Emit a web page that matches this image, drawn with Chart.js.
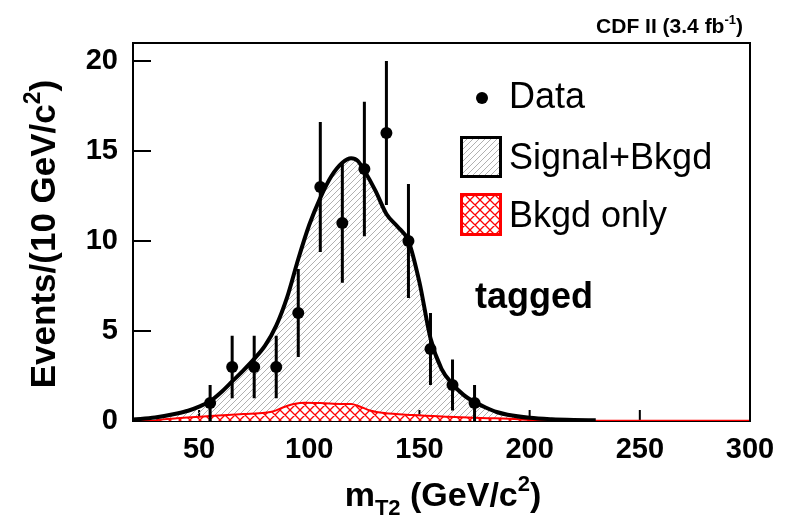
<!DOCTYPE html>
<html><head><meta charset="utf-8">
<script src="https://cdn.jsdelivr.net/npm/chart.js@4.4.1/dist/chart.umd.min.js"></script>
<style>html,body{margin:0;padding:0;background:#fff}canvas{display:block}</style>
</head><body>
<canvas id="c" width="792" height="520"></canvas>
<script>
const xTicks=[50,100,150,200,250,300];
const yTicks=[0,5,10,15,20];
const dataX=[55,65,75,85,95,105,115,125,135,145,155,165,175];
const dataY=[1,3,3,3,6,13,11,14,16,10,4,2,1];
const dataErr=[1,1.73,1.73,1.73,2.45,3.61,3.32,3.74,4,3.16,2,1.41,1];
const sbX=[20,30,40,45,50,55,60,65,70,75,80,85,90,95,100,105,110,115,119,122,125,130,135,140,145,150,155,160,165,170,175,180,185,190,200,210,220,230];
const sbY=[0.08,0.2,0.42,0.57,0.8,1.1,1.6,2.2,2.8,3.45,4.2,5.3,6.9,9.0,10.9,12.4,13.6,14.35,14.6,14.45,13.9,12.8,11.5,10.8,10.0,7.7,4.6,2.9,2.05,1.45,1.05,0.75,0.5,0.35,0.18,0.1,0.06,0.04];
const bgX=[20,30,31,40,55,70,80,84,88,93,98,105,115,119,122,128,134,147,163,178,195,204,300];
const bgY=[0,0.02,0.05,0.15,0.28,0.39,0.46,0.55,0.75,0.94,1.02,1.0,0.95,0.94,0.85,0.57,0.44,0.33,0.24,0.17,0.1,0.02,0.02];
const legendLabels=['Data','Signal+Bkgd','Bkgd only'];
const tagText='tagged';

const FF='"Liberation Sans", Arial, Helvetica, sans-serif';

function makeHatch(){
  const s=6, c=document.createElement('canvas'); c.width=s; c.height=s;
  const g=c.getContext('2d');
  g.strokeStyle='#a8a8a8'; g.lineWidth=0.9;
  g.beginPath();
  g.moveTo(0,s); g.lineTo(s,0);
  g.moveTo(-1,1); g.lineTo(1,-1);
  g.moveTo(s-1,s+1); g.lineTo(s+1,s-1);
  g.stroke();
  return g.createPattern(c,'repeat');
}
function makeCross(){
  const s=10, c=document.createElement('canvas'); c.width=s; c.height=s;
  const g=c.getContext('2d');
  g.fillStyle='#fff'; g.fillRect(0,0,s,s);
  g.strokeStyle='#ff0000'; g.lineWidth=1.3;
  g.beginPath();
  g.moveTo(0,s); g.lineTo(s,0);
  g.moveTo(-1,1); g.lineTo(1,-1);
  g.moveTo(s-1,s+1); g.lineTo(s+1,s-1);
  g.moveTo(0,0); g.lineTo(s,s);
  g.moveTo(-1,s-1); g.lineTo(1,s+1);
  g.moveTo(s-1,-1); g.lineTo(s+1,1);
  g.stroke();
  return g.createPattern(c,'repeat');
}
const hatch=makeHatch(), cross=makeCross();

function fontOf(p){return (p.b?'bold ':'')+p.s+'px '+FF;}
function drawRich(ctx,parts,x,y,align){
  let w=0;
  for(const p of parts){ctx.font=fontOf(p);w+=ctx.measureText(p.t).width;}
  let cx=align==='center'?x-w/2:align==='right'?x-w:x;
  ctx.textAlign='left'; ctx.textBaseline='alphabetic';
  for(const p of parts){ctx.font=fontOf(p);ctx.fillText(p.t,cx,y+(p.dy||0));cx+=ctx.measureText(p.t).width;}
}

const pts=(xs,ys)=>xs.map((x,i)=>({x:x,y:ys[i]}));

const framePlugin={
  id:'frame',
  beforeDraw(chart){
    const {ctx,chartArea:a,scales:{x,y}}=chart;
    ctx.save();
    ctx.strokeStyle='#000'; ctx.lineWidth=2;
    ctx.strokeRect(a.left,a.top,a.right-a.left,a.bottom-a.top);
    ctx.beginPath();
    yTicks.forEach(v=>{ if(v<=0) return; const py=y.getPixelForValue(v); ctx.moveTo(a.left,py); ctx.lineTo(a.left+18,py); });
    xTicks.forEach(v=>{ const px=x.getPixelForValue(v); if(px>=a.right-1) return; ctx.moveTo(px,a.bottom); ctx.lineTo(px,a.bottom-11); });
    ctx.stroke();
    ctx.restore();
  },
  afterDatasetsDraw(chart){
    const {ctx,chartArea:a,scales:{x,y}}=chart;
    ctx.save();
    ctx.strokeStyle='#000'; ctx.lineWidth=3;
    ctx.beginPath();
    dataX.forEach((v,i)=>{
      const px=x.getPixelForValue(v);
      ctx.moveTo(px,y.getPixelForValue(Math.max(0,dataY[i]-dataErr[i])));
      ctx.lineTo(px,y.getPixelForValue(dataY[i]+dataErr[i]));
    });
    ctx.stroke();
    ctx.lineWidth=2;
    ctx.beginPath();
    ctx.moveTo(a.left,a.bottom); ctx.lineTo(a.left,a.top); ctx.lineTo(a.right,a.top); ctx.lineTo(a.right,a.bottom);
    ctx.stroke();
    ctx.restore();
  },
  afterDraw(chart){
    const {ctx,chartArea:a}=chart;
    ctx.save();
    ctx.fillStyle='#000';
    drawRich(ctx,[{t:'CDF II (3.4 fb',s:21,b:1},{t:'-1',s:13,b:1,dy:-9},{t:')',s:21,b:1}],743,33,'right');
    drawRich(ctx,[{t:'m',s:34,b:1},{t:'T2',s:22,b:1,dy:9},{t:' (GeV/c',s:34,b:1},{t:'2',s:22,b:1,dy:-15},{t:')',s:34,b:1}],443,506,'center');
    ctx.save();
    ctx.translate(55,234); ctx.rotate(-Math.PI/2);
    drawRich(ctx,[{t:'Events/(10 GeV/c',s:35,b:1},{t:'2',s:23,b:1,dy:-15},{t:')',s:35,b:1}],0,0,'center');
    ctx.restore();
    const L=a.left;
    ctx.beginPath(); ctx.arc(L+349,98,6,0,Math.PI*2); ctx.fill();
    ctx.fillStyle=hatch; ctx.fillRect(L+327,136,42,42);
    ctx.strokeStyle='#000'; ctx.lineWidth=3; ctx.strokeRect(L+328.5,137.5,39,39);
    ctx.fillStyle=cross; ctx.fillRect(L+327,193,42,43);
    ctx.strokeStyle='#ff0000'; ctx.lineWidth=3; ctx.strokeRect(L+328.5,194.5,39,40);
    ctx.fillStyle='#000';
    ctx.font='36px '+FF; ctx.textAlign='left'; ctx.textBaseline='alphabetic';
    ctx.fillText(legendLabels[0],L+376,108);
    ctx.fillText(legendLabels[1],L+376,169);
    ctx.fillText(legendLabels[2],L+376,227);
    ctx.font='bold 36px '+FF;
    ctx.fillText(tagText,L+342,308);
    ctx.restore();
  }
};

new Chart(document.getElementById('c'),{
  type:'scatter',
  data:{datasets:[
    {label:'Data',data:pts(dataX,dataY),pointRadius:6,pointHoverRadius:6,pointBackgroundColor:'#000',pointBorderWidth:0,showLine:false},
    {type:'line',label:'Signal+Bkgd line',data:pts(sbX,sbY),borderColor:'#000',borderWidth:4,fill:false,pointRadius:0,cubicInterpolationMode:'monotone'},
    {type:'line',label:'Bkgd only',data:pts(bgX,bgY),borderColor:'#ff0000',borderWidth:2,fill:'origin',backgroundColor:cross,pointRadius:0,cubicInterpolationMode:'monotone'},
    {type:'line',label:'Signal+Bkgd',data:pts(sbX,sbY),borderWidth:0,borderColor:'rgba(0,0,0,0)',fill:'origin',backgroundColor:hatch,pointRadius:0,cubicInterpolationMode:'monotone'}
  ]},
  options:{
    responsive:false,animation:false,devicePixelRatio:1,
    layout:{padding:{top:43,right:42,left:0,bottom:0}},
    plugins:{legend:{display:false},tooltip:{enabled:false},filler:{drawTime:'beforeDatasetsDraw'}},
    scales:{
      x:{type:'linear',min:20,max:300,
        afterBuildTicks:s=>{s.ticks=xTicks.map(v=>({value:v}));},
        afterFit:s=>{s.height=99;},
        grid:{display:false},border:{display:false},
        ticks:{color:'#000',font:{family:FF,weight:'bold',size:29},padding:4,maxRotation:0,autoSkip:false}},
      y:{type:'linear',min:0,max:21,
        afterBuildTicks:s=>{s.ticks=yTicks.map(v=>({value:v}));},
        afterFit:s=>{s.width=133;},
        grid:{display:false},border:{display:false},
        ticks:{color:'#000',font:{family:FF,weight:'bold',size:29},padding:7,autoSkip:false}}
    }
  },
  plugins:[framePlugin]
});
</script>
</body></html>
